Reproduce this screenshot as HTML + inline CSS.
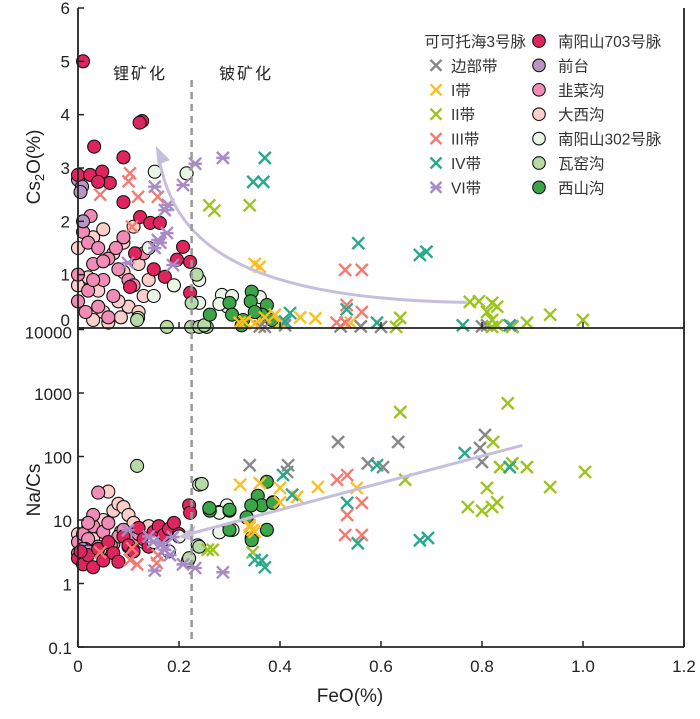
<!DOCTYPE html>
<html><head><meta charset="utf-8"><style>
body{margin:0;background:#fff;}
svg text{font-family:"Liberation Sans","Noto Sans CJK SC",sans-serif;}
</style></head><body>
<svg id="chart" width="700" height="714" viewBox="0 0 700 714" xmlns="http://www.w3.org/2000/svg">
<g id="marks"></g>
<g id="axes"></g>
</svg>
<script>
// ---- data (FeO %, Cs2O %) top panel ----
const topNY703 = [[0.01,5.0],[0.127,3.88],[0.122,3.85],[0.032,3.4],[0.09,3.2],[0.0,2.87],[0.024,2.87],[0.048,2.93],[0.063,2.72],[0.04,2.74],[0.09,2.36],[0.123,2.08],[0.143,1.97],[0.162,1.97],[0.208,1.52],[0.113,1.4],[0.196,1.28],[0.222,1.24],[0.172,0.96],[0.103,0.77],[0.222,0.66],[0.15,1.1]];
const topQiantai = [[0.0,2.78],[0.008,2.65],[0.01,2.0],[0.005,2.55]];
const topJiucai = [[0.01,1.8],[0.02,1.6],[0.04,1.5],[0.06,1.3],[0.03,1.2],[0.0,1.0],[0.05,0.9],[0.02,0.7],[0.07,0.6],[0.1,0.9],[0.04,0.4],[0.015,0.3],[0.08,1.1],[0.11,0.8],[0.06,0.2],[0.09,1.7],[0.025,2.1],[0.13,1.4],[0.03,0.9],[0.0,0.5],[0.05,1.25],[0.075,1.5]];
const topDaxi = [[0.0,1.5],[0.03,1.7],[0.05,1.85],[0.07,1.4],[0.09,1.6],[0.12,1.2],[0.1,0.4],[0.12,0.3],[0.14,0.9],[0.08,0.5],[0.04,0.7],[0.02,0.95],[0.11,1.9],[0.06,0.1],[0.13,0.6],[0.09,1.05],[0.0,0.8],[0.05,0.3],[0.03,0.15],[0.085,0.2]];
const topNY302 = [[0.152,2.93],[0.215,2.9],[0.14,1.5],[0.15,0.6],[0.19,0.8],[0.285,0.62],[0.305,0.6],[0.296,0.4],[0.36,0.58],[0.28,0.45],[0.24,0.47],[0.24,0.9]];
const topWayao = [[0.119,0.19],[0.176,0.02],[0.224,0.02],[0.235,1.0],[0.225,0.47],[0.24,0.02],[0.255,0.02],[0.117,0.15],[0.25,0.05]];
const topXishan = [[0.261,0.25],[0.3,0.47],[0.344,0.68],[0.342,0.5],[0.374,0.43],[0.327,0.15],[0.364,0.25],[0.384,0.15],[0.324,0.05],[0.305,0.25],[0.35,0.3]];
const topBianbu = [[0.36,0.03],[0.37,0.02],[0.41,0.05],[0.52,0.03],[0.56,0.03],[0.6,0.02],[0.8,0.03],[0.81,0.05],[0.86,0.03]];
const topZ1 = [[0.35,1.2],[0.36,1.15],[0.32,0.1],[0.33,0.12],[0.35,0.08],[0.37,0.2],[0.39,0.25],[0.44,0.2],[0.54,0.1],[0.4,0.1],[0.47,0.18]];
const topZ2 = [[0.26,2.3],[0.27,2.2],[0.34,2.3],[0.638,0.19],[0.63,0.02],[0.776,0.49],[0.794,0.5],[0.82,0.47],[0.83,0.4],[0.81,0.3],[0.82,0.15],[0.83,0.05],[0.889,0.1],[0.935,0.25],[1.0,0.15],[0.82,0.02],[0.86,0.02]];
const topZ3 = [[0.103,2.9],[0.1,2.75],[0.044,2.5],[0.119,2.46],[0.158,2.46],[0.107,1.9],[0.529,1.09],[0.562,1.09],[0.532,0.43],[0.562,0.3],[0.512,0.1],[0.53,0.1]];
const topZ4 = [[0.37,3.19],[0.347,2.74],[0.367,2.74],[0.555,1.59],[0.677,1.37],[0.69,1.43],[0.532,0.35],[0.42,0.28],[0.41,0.12],[0.592,0.1],[0.762,0.05],[0.855,0.05]];
const topZ6 = [[0.232,3.08],[0.287,3.19],[0.152,2.65],[0.208,2.68],[0.178,2.31],[0.172,2.21],[0.176,1.78],[0.158,1.65],[0.152,1.5],[0.099,1.22],[0.188,1.18],[0.163,1.6]];
// ---- data (FeO %, Na/Cs) bottom panel ----
const botNY703 = [[0.0,2.5],[0.01,2.0],[0.02,2.8],[0.03,1.8],[0.04,3.5],[0.05,2.3],[0.06,4.5],[0.07,3.0],[0.08,2.2],[0.09,5.5],[0.1,4.0],[0.11,3.2],[0.12,7.5],[0.13,5.0],[0.14,3.8],[0.15,6.5],[0.16,8.0],[0.17,5.8],[0.18,7.2],[0.19,9.0],[0.2,6.0],[0.22,17],[0.222,13],[0.005,3.2]];
const botQiantai = [[0.0,3.0],[0.005,2.4],[0.01,3.5],[0.02,3.2]];
const botJiucai = [[0.0,4.5],[0.01,6.0],[0.02,5.0],[0.03,8.0],[0.04,3.8],[0.05,6.5],[0.06,9.0],[0.07,4.2],[0.08,5.5],[0.09,7.0],[0.1,3.8],[0.11,5.0],[0.12,6.0],[0.03,12],[0.04,27],[0.015,3.5],[0.065,4.0],[0.02,9.0]];
const botDaxi = [[0.0,6.0],[0.01,4.0],[0.03,5.0],[0.05,10],[0.06,28],[0.07,14],[0.08,18],[0.09,16],[0.1,12],[0.11,9],[0.12,7],[0.14,8],[0.02,7.5],[0.045,3.5],[0.13,4.5],[0.085,6.5]];
const botNY302 = [[0.28,13.4],[0.295,17],[0.28,6.4],[0.305,7],[0.237,4.0],[0.218,2.3],[0.24,36],[0.28,13],[0.306,7],[0.15,4.5],[0.18,3.2],[0.2,5.5]];
const botWayao = [[0.117,71],[0.245,37],[0.22,2.5],[0.24,3.8]];
const botXishan = [[0.261,14],[0.3,14],[0.3,7],[0.334,11],[0.356,24],[0.374,40],[0.364,17],[0.386,19],[0.344,5.2],[0.374,7],[0.343,17],[0.386,18.6],[0.3,14.5],[0.26,15.4],[0.334,11],[0.344,4.8]];
const botBianbu = [[0.34,73],[0.416,73],[0.414,57],[0.515,169],[0.634,169],[0.574,78],[0.604,68],[0.806,218],[0.796,136],[0.8,82]];
const botZ1 = [[0.321,36],[0.36,38],[0.4,32],[0.434,23],[0.475,33],[0.552,32],[0.4,19],[0.34,7.7],[0.346,7],[0.34,8.3],[0.35,6.5]];
const botZ2 = [[0.638,500],[0.851,690],[0.822,169],[0.648,43],[0.836,68],[0.86,78],[0.889,68],[1.004,57],[0.935,33],[0.81,32],[0.83,19],[0.772,16],[0.8,14],[0.82,16],[0.257,3.4],[0.267,3.4],[0.346,3.1]];
const botZ3 = [[0.513,43],[0.533,51],[0.562,18.6],[0.533,12],[0.529,5.8],[0.562,5.8],[0.044,3.1],[0.107,3.6],[0.103,2.35],[0.117,2.0],[0.156,2.1],[0.158,2.8]];
const botZ4 = [[0.406,51],[0.424,25],[0.533,18.6],[0.554,4.3],[0.592,73],[0.766,113],[0.855,68],[0.677,4.8],[0.693,5.2],[0.35,2.35],[0.37,1.8],[0.364,2.3]];
const botZ6 = [[0.099,6.9],[0.149,4.5],[0.166,4.3],[0.188,5.4],[0.182,2.8],[0.208,2.0],[0.232,1.75],[0.152,1.6],[0.287,1.5],[0.172,3.4],[0.14,5.5]];
// trend annotations (cubic control points in data units)
const topTrendX = [0.77, 0.30, 0.19, 0.16];
const topTrendY = [0.48, 0.55, 1.7, 3.3];
const botTrendX = [0.88, 0.2];
const botTrendY = [150, 5.4];
const topTicks = [0,1,2,3,4,5,6];
const botTicks = [0.1,1,10,100,1000,10000];
const botTickLabels = ['0.1','1','10','100','1000','10000'];
const xTicks = [0,0.2,0.4,0.6,0.8,1.0,1.2];
const xTickLabels = ['0','0.2','0.4','0.6','0.8','1.0','1.2'];

const L=78,R=684,T=8,MID=328,B=647;
const sx=v=>L+v*(R-L)/1.2;
const syT=v=>MID-v*(MID-T)/6;
const syB=v=>B-(Math.log10(v)+1)*(B-329.5)/5;
const NS='http://www.w3.org/2000/svg';
const marks=document.getElementById('marks'), axes=document.getElementById('axes');
function mk(tag,attrs,parent){const e=document.createElementNS(NS,tag);for(const k in attrs)e.setAttribute(k,attrs[k]);parent.appendChild(e);return e;}

function circles(data,ys,fill,name){
  const g=mk('g',{},marks);
  
  
  data.forEach(d=>{const c=mk('circle',{cx:sx(d[0]),cy:ys(d[1]),r:6.5,fill:fill,stroke:'#111','stroke-width':1.1},g);
    
    });
}
function crosses(data,ys,col,name,star){
  const g=mk('g',{stroke:col,'stroke-width':2.4,fill:'none'},marks);
  
  
  data.forEach(d=>{const x=sx(d[0]),y=ys(d[1]),s=6;
    let p=`M${x-s},${y-s}L${x+s},${y+s}M${x-s},${y+s}L${x+s},${y-s}`;
    if(star)p+=`M${x-s*1.1},${y}L${x+s*1.1},${y}`;
    const e=mk('path',{d:p},g);
    
    });
}
const C={ny703:'#e0245e',qt:'#b995c4',jc:'#f08cb6',dx:'#fccfcb',ny302:'#eaf5e6',wy:'#b6dba6',xs:'#3aa647',bb:'#888888',z1:'#fbbf24',z2:'#9cc41e',z3:'#f47a72',z4:'#29a88c',z6:'#a88ac6'};
function panel(ys,ny703,qt,jc,dx,ny302,wy,xs,bb,z1,z2,z3,z4,z6,pre){
  circles(dx,ys,C.dx,pre+'daxigou');circles(jc,ys,C.jc,pre+'jiucaigou');circles(qt,ys,C.qt,pre+'qiantai');
  circles(ny703,ys,C.ny703,pre+'nanyangshan703');circles(ny302,ys,C.ny302,pre+'nanyangshan302');
  circles(wy,ys,C.wy,pre+'wayaogou');circles(xs,ys,C.xs,pre+'xishangou');
  crosses(bb,ys,C.bb,pre+'bianbu-zone');crosses(z1,ys,C.z1,pre+'zone-1');crosses(z2,ys,C.z2,pre+'zone-2');
  crosses(z3,ys,C.z3,pre+'zone-3');crosses(z4,ys,C.z4,pre+'zone-4');crosses(z6,ys,C.z6,pre+'zone-6',true);
}
panel(syT,topNY703,topQiantai,topJiucai,topDaxi,topNY302,topWayao,topXishan,topBianbu,topZ1,topZ2,topZ3,topZ4,topZ6,'top-');
panel(syB,botNY703,botQiantai,botJiucai,botDaxi,botNY302,botWayao,botXishan,botBianbu,botZ1,botZ2,botZ3,botZ4,botZ6,'bottom-');

// trend curves
{const p=topTrendX.map((x,i)=>[sx(x),syT(topTrendY[i])]);
 const d=`M${p[0]}C${p[1]} ${p[2]} ${p[3][0]},${p[3][1]+6}`;
 const e=mk('path',{d:d,stroke:'#c7bedd','stroke-width':3,fill:'none'},marks);
 
 
 const [x,y]=p[3];
 const h=mk('path',{d:`M${x-3},${y-6}L${x+11},${y+8}L${x-1},${y+13}Z`,fill:'#c7bedd'},marks);
 
 }
{const x1=sx(botTrendX[0]),y1=syB(botTrendY[0]),x2=sx(botTrendX[1]),y2=syB(botTrendY[1]);
 const e=mk('line',{x1:x1,y1:y1,x2:x2+10,y2:y2-3,stroke:'#c7bedd','stroke-width':3},marks);
 
 
 const h=mk('path',{d:`M${x2},${y2}L${x2+16},${y2-12}L${x2+14},${y2+4}Z`,fill:'#c7bedd'},marks);
 
 }

// divider dashed line
{const e=mk('line',{x1:sx(0.225),y1:80,x2:sx(0.225),y2:640,stroke:'#999','stroke-width':2.5,'stroke-dasharray':'7,5'},axes);
 
 }
// axes lines
[[L,T,L,B,'left-axis'],[R,T,R,B,'right-axis'],[L,MID,R,MID,'panel-divider-axis'],[L,B,R,B,'bottom-axis']].forEach(a=>{
  const e=mk('line',{x1:a[0],y1:a[1],x2:a[2],y2:a[3],stroke:'#222','stroke-width':1.8},axes);
  
  });
function txt(x,y,s,attrs,name){const e=mk('text',Object.assign({x:x,y:y,'font-size':16,fill:'#222'},attrs||{}),axes);e.textContent=s;
  
  return e;}
topTicks.forEach(v=>{const y=syT(v);mk('line',{x1:L,y1:y,x2:L+6,y2:y,stroke:'#222','stroke-width':1.5},axes);
  txt(L-8,(v===0?y-2:y+6),String(v),{'text-anchor':'end','font-size':17},'top-y-tick-label');});
botTicks.forEach((v,i)=>{const y=syB(v);mk('line',{x1:L,y1:y,x2:L+6,y2:y,stroke:'#222','stroke-width':1.5},axes);
  txt(L-6,y+7+(i===5?2:0),botTickLabels[i],{'text-anchor':'end','font-size':17},'bottom-y-tick-label');});
xTicks.forEach((v,i)=>{const x=sx(v);mk('line',{x1:x,y1:B,x2:x,y2:B-6,stroke:'#222','stroke-width':1.5},axes);
  mk('line',{x1:x,y1:MID,x2:x,y2:MID-6,stroke:'#222','stroke-width':1.5},axes);
  txt(x,672,xTickLabels[i],{'text-anchor':'middle','font-size':17},'x-tick-label');});
txt(350,702,'FeO(%)',{'text-anchor':'middle','font-size':19},'x-axis-title');
{const e=mk('text',{x:0,y:0,'font-size':19,fill:'#222','text-anchor':'middle',transform:'translate(40,167) rotate(-90)'},axes);
 e.innerHTML='Cs<tspan font-size="13" dy="4">2</tspan><tspan dy="-4">O(%)</tspan>';
 
 }
txt(0,0,'Na/Cs',{'text-anchor':'middle','font-size':19,transform:'translate(40,490) rotate(-90)'},'bottom-y-axis-title');
txt(140,79,'锂矿化',{'text-anchor':'middle','font-size':16,'letter-spacing':2},'lithium-mineralization-label');
txt(246,79,'铍矿化',{'text-anchor':'middle','font-size':16,'letter-spacing':2},'beryllium-mineralization-label');
// legend
const legL=['可可托海3号脉','边部带','I带','II带','III带','IV带','VI带'];
const legLc=[null,C.bb,C.z1,C.z2,C.z3,C.z4,C.z6];
const legR=['南阳山703号脉','前台','韭菜沟','大西沟','南阳山302号脉','瓦窑沟','西山沟'];
const legRc=[C.ny703,C.qt,C.jc,C.dx,C.ny302,C.wy,C.xs];
const lg=mk('g',{},axes);


legL.forEach((s,i)=>{const y=41+i*24.4;
  if(i===0){const t=mk('text',{x:526,y:y+6,'font-size':15.5,fill:'#333','text-anchor':'end'},lg);t.textContent=s;
    
    }
  else{const x=436,k=5.5;let p=`M${x-k},${y-k}L${x+k},${y+k}M${x-k},${y+k}L${x+k},${y-k}`;if(i===6)p+=`M${x-k},${y}L${x+k},${y}`;
    mk('path',{d:p,stroke:legLc[i],'stroke-width':2.4,fill:'none'},lg);
    const t=mk('text',{x:451,y:y+6,'font-size':15.5,fill:'#333'},lg);t.textContent=s;
    
    }});
legR.forEach((s,i)=>{const y=41+i*24.4;
  mk('circle',{cx:539,cy:y,r:6.3,fill:legRc[i],stroke:'#111','stroke-width':1.1},lg);
  const t=mk('text',{x:558,y:y+6,'font-size':15.5,fill:'#333'},lg);t.textContent=s;
  
  });
</script>
</body></html>
